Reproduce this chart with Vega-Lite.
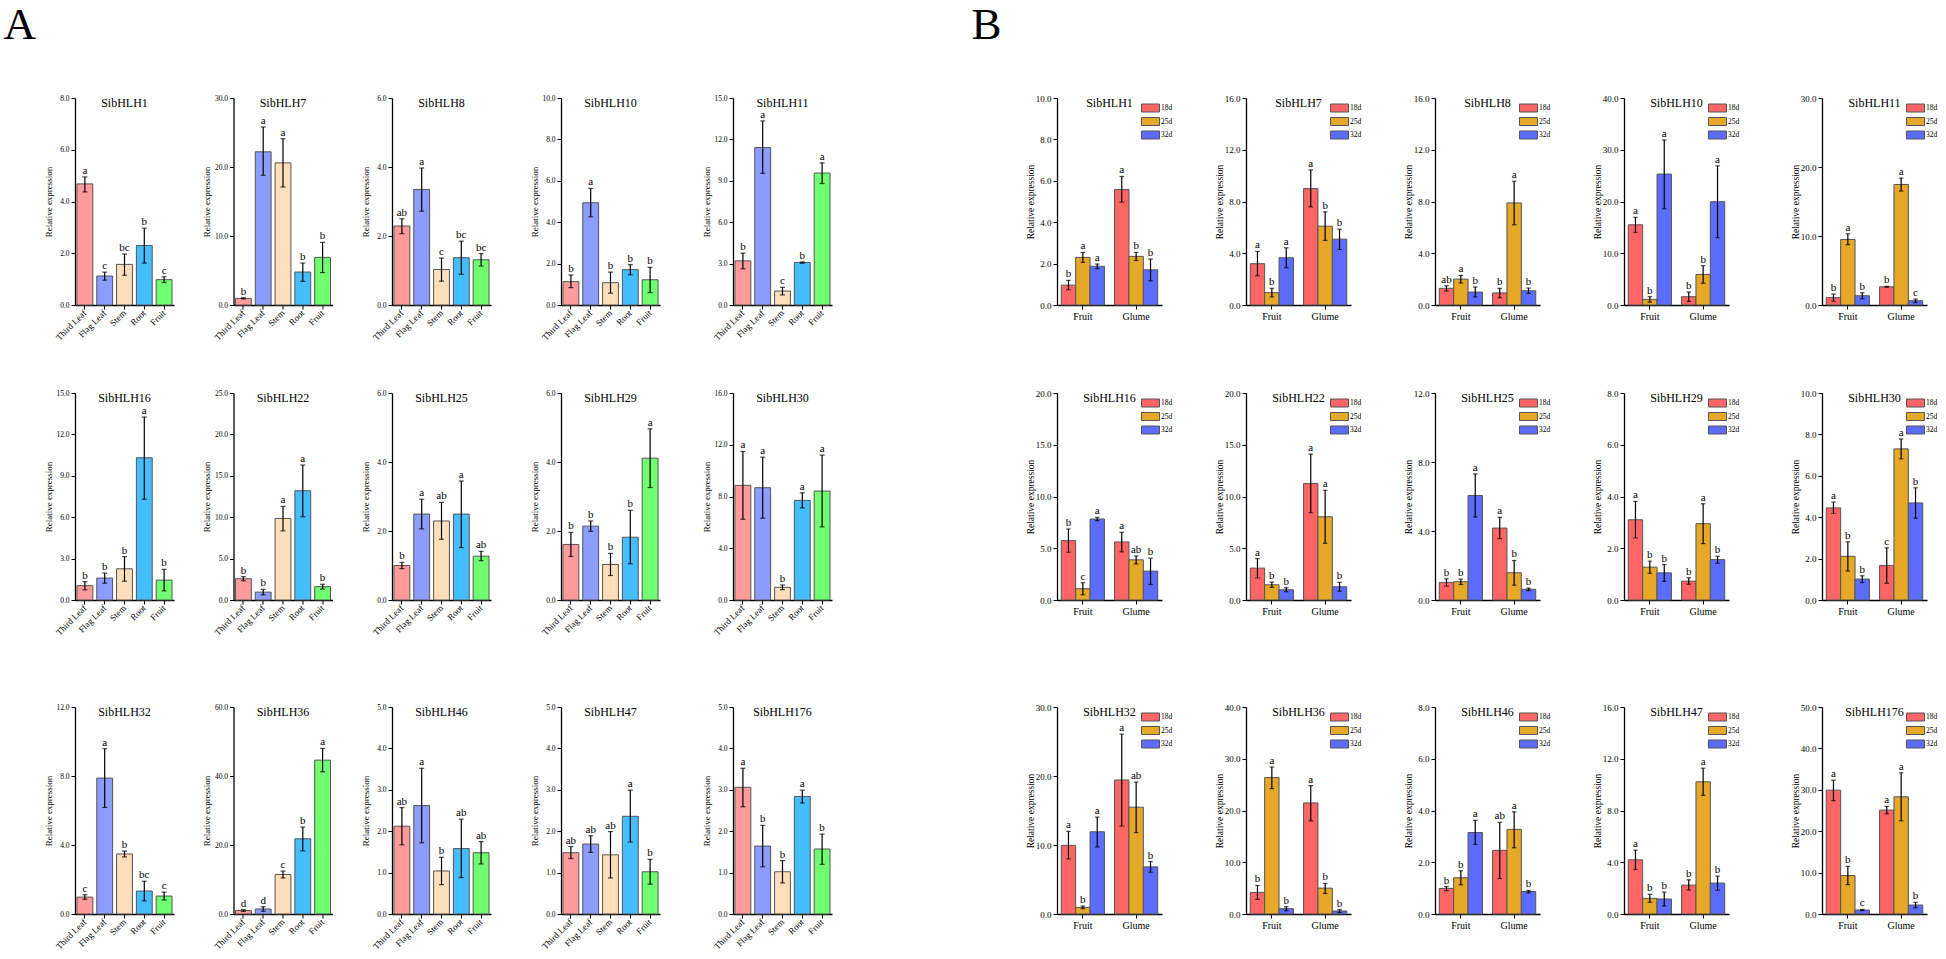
{
"$schema":"https://vega.github.io/schema/vega-lite/v6.json",
"padding":{"left":3,"top":3,"right":0,"bottom":0},
"config":{
 "view":{"stroke":null},
 "font":"Liberation Serif",
 "style":{"group-title":{"font":"Liberation Serif","fontWeight":"normal","fontSize":12,"fill":"#000"}},
 "title":{"font":"Liberation Serif","fontSize":12,"fontWeight":"normal","color":"#000","offset":-15.5,"frame":"group","baseline":"alphabetic"},
 "axis":{"domainColor":"#000","domainWidth":1.3,"tickColor":"#000","tickWidth":1,"tickSize":4,"labelColor":"#000","titleColor":"#000","labelFont":"Liberation Serif","titleFont":"Liberation Serif","titleFontWeight":"normal","grid":false,"labelOverlap":false,"labelPadding":2},
 "axisY":{"labelFontSize":7.5,"titleFontSize":9,"titlePadding":2,"minExtent":20,"maxExtent":20},
 "axisX":{"labelFontSize":9,"minExtent":40},
 "bar":{"stroke":"#555","strokeWidth":1},
 "text":{"font":"Liberation Serif","fontSize":11,"color":"#000"},
 "legend":{"orient":"none","legendX":84,"legendY":5.5,"padding":0,"symbolType":"M-1,-1H3.5V1H-1Z","symbolSize":64,"symbolStrokeColor":"#555","symbolStrokeWidth":0.8,"labelFont":"Liberation Serif","labelFontSize":7.5,"labelColor":"#000","labelOffset":11,"rowPadding":0.5}
},
"hconcat":[
{"title":{"text":"A","fontSize":45,"anchor":"start","frame":"bounds","offset":10,"dx":-40.5,"baseline":"alphabetic"},
 "spacing":44,
 "vconcat":[
 {"spacing":39,"hconcat":[
  {"spacing":28.5,"hconcat":[
   {"width":99,"height":207,"title":"SibHLH1",
    "data":{"values":[{"tissue":"Third Leaf","mean":4.68,"lo":4.37,"hi":4.95,"sig":"a"},{"tissue":"Flag Leaf","mean":1.12,"lo":0.96,"hi":1.27,"sig":"c"},{"tissue":"Stem","mean":1.57,"lo":1.15,"hi":1.97,"sig":"bc"},{"tissue":"Root","mean":2.3,"lo":1.62,"hi":2.97,"sig":"b"},{"tissue":"Fruit","mean":0.98,"lo":0.87,"hi":1.09,"sig":"c"}]},
    "encoding":{"x":{"field":"tissue","type":"nominal","sort":["Third Leaf","Flag Leaf","Stem","Root","Fruit"],"title":null,"scale":{"paddingInner":0.2,"paddingOuter":0.1},"axis":{"labelAngle":-45,"labelAlign":"right","labelBaseline":"middle"}}},
    "layer":[
     {"mark":"bar","encoding":{"y":{"field":"mean","type":"quantitative","title":"Relative expression","scale":{"domain":[0,8],"nice":false},"axis":{"values":[0,1,2,3,4,5,6,7,8],"labelExpr":"datum.value % 2 ? '' : format(datum.value, '.1f')","tickSize":{"condition":{"test":"datum.value % 2","value":2},"value":4}}},"color":{"field":"tissue","type":"nominal","scale":{"domain":["Third Leaf","Flag Leaf","Stem","Root","Fruit"],"range":["#FF9B9B","#8C9CFF","#FFDEB9","#45BEFF","#70FF70"]},"legend":null}}},
     {"mark":{"type":"errorbar","ticks":true,"size":5,"thickness":1.2,"color":"black"},"encoding":{"y":{"field":"lo","type":"quantitative","title":"Relative expression"},"y2":{"field":"hi"}}},
     {"mark":{"type":"text","baseline":"alphabetic","dy":-3},"encoding":{"y":{"field":"hi","type":"quantitative","title":"Relative expression"},"text":{"field":"sig"}}}
    ]},
   {"width":99,"height":207,"title":"SibHLH7",
    "data":{"values":[{"tissue":"Third Leaf","mean":0.96,"lo":0.88,"hi":1.04,"sig":"b"},{"tissue":"Flag Leaf","mean":22.2,"lo":18.8,"hi":25.8,"sig":"a"},{"tissue":"Stem","mean":20.6,"lo":17.1,"hi":24.1,"sig":"a"},{"tissue":"Root","mean":4.78,"lo":3.42,"hi":6.08,"sig":"b"},{"tissue":"Fruit","mean":6.9,"lo":4.7,"hi":9.07,"sig":"b"}]},
    "encoding":{"x":{"field":"tissue","type":"nominal","sort":["Third Leaf","Flag Leaf","Stem","Root","Fruit"],"title":null,"scale":{"paddingInner":0.2,"paddingOuter":0.1},"axis":{"labelAngle":-45,"labelAlign":"right","labelBaseline":"middle"}}},
    "layer":[
     {"mark":"bar","encoding":{"y":{"field":"mean","type":"quantitative","title":"Relative expression","scale":{"domain":[0,30],"nice":false},"axis":{"values":[0,2.5,5,7.5,10,12.5,15,17.5,20,22.5,25,27.5,30],"labelExpr":"datum.value % 5 ? '' : format(datum.value, '.1f')","tickSize":{"condition":{"test":"datum.value % 5","value":2},"value":4}}},"color":{"field":"tissue","type":"nominal","scale":{"domain":["Third Leaf","Flag Leaf","Stem","Root","Fruit"],"range":["#FF9B9B","#8C9CFF","#FFDEB9","#45BEFF","#70FF70"]},"legend":null}}},
     {"mark":{"type":"errorbar","ticks":true,"size":5,"thickness":1.2,"color":"black"},"encoding":{"y":{"field":"lo","type":"quantitative","title":"Relative expression"},"y2":{"field":"hi"}}},
     {"mark":{"type":"text","baseline":"alphabetic","dy":-3},"encoding":{"y":{"field":"hi","type":"quantitative","title":"Relative expression"},"text":{"field":"sig"}}}
    ]},
   {"width":99,"height":207,"title":"SibHLH8",
    "data":{"values":[{"tissue":"Third Leaf","mean":2.29,"lo":2.07,"hi":2.5,"sig":"ab"},{"tissue":"Flag Leaf","mean":3.35,"lo":2.72,"hi":3.97,"sig":"a"},{"tissue":"Stem","mean":1.03,"lo":0.69,"hi":1.36,"sig":"c"},{"tissue":"Root","mean":1.37,"lo":0.89,"hi":1.85,"sig":"bc"},{"tissue":"Fruit","mean":1.31,"lo":1.13,"hi":1.49,"sig":"bc"}]},
    "encoding":{"x":{"field":"tissue","type":"nominal","sort":["Third Leaf","Flag Leaf","Stem","Root","Fruit"],"title":null,"scale":{"paddingInner":0.2,"paddingOuter":0.1},"axis":{"labelAngle":-45,"labelAlign":"right","labelBaseline":"middle"}}},
    "layer":[
     {"mark":"bar","encoding":{"y":{"field":"mean","type":"quantitative","title":"Relative expression","scale":{"domain":[0,6],"nice":false},"axis":{"values":[0,0.5,1,1.5,2,2.5,3,3.5,4,4.5,5,5.5,6],"labelExpr":"datum.value % 1 ? '' : format(datum.value, '.1f')","tickSize":{"condition":{"test":"datum.value % 1","value":2},"value":4}}},"color":{"field":"tissue","type":"nominal","scale":{"domain":["Third Leaf","Flag Leaf","Stem","Root","Fruit"],"range":["#FF9B9B","#8C9CFF","#FFDEB9","#45BEFF","#70FF70"]},"legend":null}}},
     {"mark":{"type":"errorbar","ticks":true,"size":5,"thickness":1.2,"color":"black"},"encoding":{"y":{"field":"lo","type":"quantitative","title":"Relative expression"},"y2":{"field":"hi"}}},
     {"mark":{"type":"text","baseline":"alphabetic","dy":-3},"encoding":{"y":{"field":"hi","type":"quantitative","title":"Relative expression"},"text":{"field":"sig"}}}
    ]}
  ]},
  {"spacing":42,"hconcat":[
   {"width":99,"height":207,"title":"SibHLH10",
    "data":{"values":[{"tissue":"Third Leaf","mean":1.13,"lo":0.84,"hi":1.45,"sig":"b"},{"tissue":"Flag Leaf","mean":4.94,"lo":4.26,"hi":5.63,"sig":"a"},{"tissue":"Stem","mean":1.08,"lo":0.57,"hi":1.59,"sig":"b"},{"tissue":"Root","mean":1.71,"lo":1.46,"hi":1.95,"sig":"b"},{"tissue":"Fruit","mean":1.22,"lo":0.6,"hi":1.82,"sig":"b"}]},
    "encoding":{"x":{"field":"tissue","type":"nominal","sort":["Third Leaf","Flag Leaf","Stem","Root","Fruit"],"title":null,"scale":{"paddingInner":0.2,"paddingOuter":0.1},"axis":{"labelAngle":-45,"labelAlign":"right","labelBaseline":"middle"}}},
    "layer":[
     {"mark":"bar","encoding":{"y":{"field":"mean","type":"quantitative","title":"Relative expression","scale":{"domain":[0,10],"nice":false},"axis":{"values":[0,1,2,3,4,5,6,7,8,9,10],"labelExpr":"datum.value % 2 ? '' : format(datum.value, '.1f')","tickSize":{"condition":{"test":"datum.value % 2","value":2},"value":4}}},"color":{"field":"tissue","type":"nominal","scale":{"domain":["Third Leaf","Flag Leaf","Stem","Root","Fruit"],"range":["#FF9B9B","#8C9CFF","#FFDEB9","#45BEFF","#70FF70"]},"legend":null}}},
     {"mark":{"type":"errorbar","ticks":true,"size":5,"thickness":1.2,"color":"black"},"encoding":{"y":{"field":"lo","type":"quantitative","title":"Relative expression"},"y2":{"field":"hi"}}},
     {"mark":{"type":"text","baseline":"alphabetic","dy":-3},"encoding":{"y":{"field":"hi","type":"quantitative","title":"Relative expression"},"text":{"field":"sig"}}}
    ]},
   {"width":99,"height":207,"title":"SibHLH11",
    "data":{"values":[{"tissue":"Third Leaf","mean":3.2,"lo":2.62,"hi":3.76,"sig":"b"},{"tissue":"Flag Leaf","mean":11.41,"lo":9.54,"hi":13.34,"sig":"a"},{"tissue":"Stem","mean":1.01,"lo":0.73,"hi":1.28,"sig":"c"},{"tissue":"Root","mean":3.08,"lo":3.03,"hi":3.12,"sig":"b"},{"tissue":"Fruit","mean":9.56,"lo":8.8,"hi":10.3,"sig":"a"}]},
    "encoding":{"x":{"field":"tissue","type":"nominal","sort":["Third Leaf","Flag Leaf","Stem","Root","Fruit"],"title":null,"scale":{"paddingInner":0.2,"paddingOuter":0.1},"axis":{"labelAngle":-45,"labelAlign":"right","labelBaseline":"middle"}}},
    "layer":[
     {"mark":"bar","encoding":{"y":{"field":"mean","type":"quantitative","title":"Relative expression","scale":{"domain":[0,15],"nice":false},"axis":{"values":[0,1.5,3,4.5,6,7.5,9,10.5,12,13.5,15],"labelExpr":"datum.value % 3 ? '' : format(datum.value, '.1f')","tickSize":{"condition":{"test":"datum.value % 3","value":2},"value":4}}},"color":{"field":"tissue","type":"nominal","scale":{"domain":["Third Leaf","Flag Leaf","Stem","Root","Fruit"],"range":["#FF9B9B","#8C9CFF","#FFDEB9","#45BEFF","#70FF70"]},"legend":null}}},
     {"mark":{"type":"errorbar","ticks":true,"size":5,"thickness":1.2,"color":"black"},"encoding":{"y":{"field":"lo","type":"quantitative","title":"Relative expression"},"y2":{"field":"hi"}}},
     {"mark":{"type":"text","baseline":"alphabetic","dy":-3},"encoding":{"y":{"field":"hi","type":"quantitative","title":"Relative expression"},"text":{"field":"sig"}}}
    ]}
  ]}
 ]},
 {"spacing":39,"hconcat":[
  {"spacing":28.5,"hconcat":[
   {"width":99,"height":207,"title":"SibHLH16",
    "data":{"values":[{"tissue":"Third Leaf","mean":1.04,"lo":0.74,"hi":1.33,"sig":"b"},{"tissue":"Flag Leaf","mean":1.59,"lo":1.22,"hi":1.95,"sig":"b"},{"tissue":"Stem","mean":2.26,"lo":1.36,"hi":3.14,"sig":"b"},{"tissue":"Root","mean":10.31,"lo":7.3,"hi":13.26,"sig":"a"},{"tissue":"Fruit","mean":1.44,"lo":0.66,"hi":2.22,"sig":"b"}]},
    "encoding":{"x":{"field":"tissue","type":"nominal","sort":["Third Leaf","Flag Leaf","Stem","Root","Fruit"],"title":null,"scale":{"paddingInner":0.2,"paddingOuter":0.1},"axis":{"labelAngle":-45,"labelAlign":"right","labelBaseline":"middle","minExtent":59}}},
    "layer":[
     {"mark":"bar","encoding":{"y":{"field":"mean","type":"quantitative","title":"Relative expression","scale":{"domain":[0,15],"nice":false},"axis":{"values":[0,1.5,3,4.5,6,7.5,9,10.5,12,13.5,15],"labelExpr":"datum.value % 3 ? '' : format(datum.value, '.1f')","tickSize":{"condition":{"test":"datum.value % 3","value":2},"value":4}}},"color":{"field":"tissue","type":"nominal","scale":{"domain":["Third Leaf","Flag Leaf","Stem","Root","Fruit"],"range":["#FF9B9B","#8C9CFF","#FFDEB9","#45BEFF","#70FF70"]},"legend":null}}},
     {"mark":{"type":"errorbar","ticks":true,"size":5,"thickness":1.2,"color":"black"},"encoding":{"y":{"field":"lo","type":"quantitative","title":"Relative expression"},"y2":{"field":"hi"}}},
     {"mark":{"type":"text","baseline":"alphabetic","dy":-3},"encoding":{"y":{"field":"hi","type":"quantitative","title":"Relative expression"},"text":{"field":"sig"}}}
    ]},
   {"width":99,"height":207,"title":"SibHLH22",
    "data":{"values":[{"tissue":"Third Leaf","mean":2.57,"lo":2.32,"hi":2.82,"sig":"b"},{"tissue":"Flag Leaf","mean":0.95,"lo":0.62,"hi":1.28,"sig":"b"},{"tissue":"Stem","mean":9.85,"lo":8.35,"hi":11.3,"sig":"a"},{"tissue":"Root","mean":13.2,"lo":10.05,"hi":16.3,"sig":"a"},{"tissue":"Fruit","mean":1.61,"lo":1.32,"hi":1.9,"sig":"b"}]},
    "encoding":{"x":{"field":"tissue","type":"nominal","sort":["Third Leaf","Flag Leaf","Stem","Root","Fruit"],"title":null,"scale":{"paddingInner":0.2,"paddingOuter":0.1},"axis":{"labelAngle":-45,"labelAlign":"right","labelBaseline":"middle","minExtent":59}}},
    "layer":[
     {"mark":"bar","encoding":{"y":{"field":"mean","type":"quantitative","title":"Relative expression","scale":{"domain":[0,25],"nice":false},"axis":{"values":[0,2.5,5,7.5,10,12.5,15,17.5,20,22.5,25],"labelExpr":"datum.value % 5 ? '' : format(datum.value, '.1f')","tickSize":{"condition":{"test":"datum.value % 5","value":2},"value":4}}},"color":{"field":"tissue","type":"nominal","scale":{"domain":["Third Leaf","Flag Leaf","Stem","Root","Fruit"],"range":["#FF9B9B","#8C9CFF","#FFDEB9","#45BEFF","#70FF70"]},"legend":null}}},
     {"mark":{"type":"errorbar","ticks":true,"size":5,"thickness":1.2,"color":"black"},"encoding":{"y":{"field":"lo","type":"quantitative","title":"Relative expression"},"y2":{"field":"hi"}}},
     {"mark":{"type":"text","baseline":"alphabetic","dy":-3},"encoding":{"y":{"field":"hi","type":"quantitative","title":"Relative expression"},"text":{"field":"sig"}}}
    ]},
   {"width":99,"height":207,"title":"SibHLH25",
    "data":{"values":[{"tissue":"Third Leaf","mean":1.0,"lo":0.91,"hi":1.09,"sig":"b"},{"tissue":"Flag Leaf","mean":2.49,"lo":2.06,"hi":2.92,"sig":"a"},{"tissue":"Stem","mean":2.29,"lo":1.76,"hi":2.83,"sig":"ab"},{"tissue":"Root","mean":2.49,"lo":1.52,"hi":3.45,"sig":"a"},{"tissue":"Fruit","mean":1.27,"lo":1.14,"hi":1.41,"sig":"ab"}]},
    "encoding":{"x":{"field":"tissue","type":"nominal","sort":["Third Leaf","Flag Leaf","Stem","Root","Fruit"],"title":null,"scale":{"paddingInner":0.2,"paddingOuter":0.1},"axis":{"labelAngle":-45,"labelAlign":"right","labelBaseline":"middle","minExtent":59}}},
    "layer":[
     {"mark":"bar","encoding":{"y":{"field":"mean","type":"quantitative","title":"Relative expression","scale":{"domain":[0,6],"nice":false},"axis":{"values":[0,0.5,1,1.5,2,2.5,3,3.5,4,4.5,5,5.5,6],"labelExpr":"datum.value % 1 ? '' : format(datum.value, '.1f')","tickSize":{"condition":{"test":"datum.value % 1","value":2},"value":4}}},"color":{"field":"tissue","type":"nominal","scale":{"domain":["Third Leaf","Flag Leaf","Stem","Root","Fruit"],"range":["#FF9B9B","#8C9CFF","#FFDEB9","#45BEFF","#70FF70"]},"legend":null}}},
     {"mark":{"type":"errorbar","ticks":true,"size":5,"thickness":1.2,"color":"black"},"encoding":{"y":{"field":"lo","type":"quantitative","title":"Relative expression"},"y2":{"field":"hi"}}},
     {"mark":{"type":"text","baseline":"alphabetic","dy":-3},"encoding":{"y":{"field":"hi","type":"quantitative","title":"Relative expression"},"text":{"field":"sig"}}}
    ]}
  ]},
  {"spacing":42,"hconcat":[
   {"width":99,"height":207,"title":"SibHLH29",
    "data":{"values":[{"tissue":"Third Leaf","mean":1.61,"lo":1.26,"hi":1.96,"sig":"b"},{"tissue":"Flag Leaf","mean":2.14,"lo":1.99,"hi":2.29,"sig":"b"},{"tissue":"Stem","mean":1.03,"lo":0.71,"hi":1.35,"sig":"b"},{"tissue":"Root","mean":1.82,"lo":1.05,"hi":2.6,"sig":"b"},{"tissue":"Fruit","mean":4.11,"lo":3.26,"hi":4.96,"sig":"a"}]},
    "encoding":{"x":{"field":"tissue","type":"nominal","sort":["Third Leaf","Flag Leaf","Stem","Root","Fruit"],"title":null,"scale":{"paddingInner":0.2,"paddingOuter":0.1},"axis":{"labelAngle":-45,"labelAlign":"right","labelBaseline":"middle","minExtent":59}}},
    "layer":[
     {"mark":"bar","encoding":{"y":{"field":"mean","type":"quantitative","title":"Relative expression","scale":{"domain":[0,6],"nice":false},"axis":{"values":[0,0.5,1,1.5,2,2.5,3,3.5,4,4.5,5,5.5,6],"labelExpr":"datum.value % 1 ? '' : format(datum.value, '.1f')","tickSize":{"condition":{"test":"datum.value % 1","value":2},"value":4}}},"color":{"field":"tissue","type":"nominal","scale":{"domain":["Third Leaf","Flag Leaf","Stem","Root","Fruit"],"range":["#FF9B9B","#8C9CFF","#FFDEB9","#45BEFF","#70FF70"]},"legend":null}}},
     {"mark":{"type":"errorbar","ticks":true,"size":5,"thickness":1.2,"color":"black"},"encoding":{"y":{"field":"lo","type":"quantitative","title":"Relative expression"},"y2":{"field":"hi"}}},
     {"mark":{"type":"text","baseline":"alphabetic","dy":-3},"encoding":{"y":{"field":"hi","type":"quantitative","title":"Relative expression"},"text":{"field":"sig"}}}
    ]},
   {"width":99,"height":207,"title":"SibHLH30",
    "data":{"values":[{"tissue":"Third Leaf","mean":8.86,"lo":6.24,"hi":11.48,"sig":"a"},{"tissue":"Flag Leaf","mean":8.68,"lo":6.32,"hi":11.04,"sig":"a"},{"tissue":"Stem","mean":0.98,"lo":0.8,"hi":1.16,"sig":"b"},{"tissue":"Root","mean":7.7,"lo":7.12,"hi":8.29,"sig":"a"},{"tissue":"Fruit","mean":8.42,"lo":5.65,"hi":11.2,"sig":"a"}]},
    "encoding":{"x":{"field":"tissue","type":"nominal","sort":["Third Leaf","Flag Leaf","Stem","Root","Fruit"],"title":null,"scale":{"paddingInner":0.2,"paddingOuter":0.1},"axis":{"labelAngle":-45,"labelAlign":"right","labelBaseline":"middle","minExtent":59}}},
    "layer":[
     {"mark":"bar","encoding":{"y":{"field":"mean","type":"quantitative","title":"Relative expression","scale":{"domain":[0,16],"nice":false},"axis":{"values":[0,2,4,6,8,10,12,14,16],"labelExpr":"datum.value % 4 ? '' : format(datum.value, '.1f')","tickSize":{"condition":{"test":"datum.value % 4","value":2},"value":4}}},"color":{"field":"tissue","type":"nominal","scale":{"domain":["Third Leaf","Flag Leaf","Stem","Root","Fruit"],"range":["#FF9B9B","#8C9CFF","#FFDEB9","#45BEFF","#70FF70"]},"legend":null}}},
     {"mark":{"type":"errorbar","ticks":true,"size":5,"thickness":1.2,"color":"black"},"encoding":{"y":{"field":"lo","type":"quantitative","title":"Relative expression"},"y2":{"field":"hi"}}},
     {"mark":{"type":"text","baseline":"alphabetic","dy":-3},"encoding":{"y":{"field":"hi","type":"quantitative","title":"Relative expression"},"text":{"field":"sig"}}}
    ]}
  ]}
 ]},
 {"spacing":39,"hconcat":[
  {"spacing":28.5,"hconcat":[
   {"width":99,"height":207,"title":"SibHLH32",
    "data":{"values":[{"tissue":"Third Leaf","mean":0.98,"lo":0.85,"hi":1.12,"sig":"c"},{"tissue":"Flag Leaf","mean":7.88,"lo":6.18,"hi":9.58,"sig":"a"},{"tissue":"Stem","mean":3.48,"lo":3.31,"hi":3.65,"sig":"b"},{"tissue":"Root","mean":1.33,"lo":0.76,"hi":1.9,"sig":"bc"},{"tissue":"Fruit","mean":1.04,"lo":0.81,"hi":1.27,"sig":"c"}]},
    "encoding":{"x":{"field":"tissue","type":"nominal","sort":["Third Leaf","Flag Leaf","Stem","Root","Fruit"],"title":null,"scale":{"paddingInner":0.2,"paddingOuter":0.1},"axis":{"labelAngle":-45,"labelAlign":"right","labelBaseline":"middle"}}},
    "layer":[
     {"mark":"bar","encoding":{"y":{"field":"mean","type":"quantitative","title":"Relative expression","scale":{"domain":[0,12],"nice":false},"axis":{"values":[0,1,2,3,4,5,6,7,8,9,10,11,12],"labelExpr":"datum.value % 2 ? '' : format(datum.value, '.1f')","tickSize":{"condition":{"test":"datum.value % 2","value":2},"value":4}}},"color":{"field":"tissue","type":"nominal","scale":{"domain":["Third Leaf","Flag Leaf","Stem","Root","Fruit"],"range":["#FF9B9B","#8C9CFF","#FFDEB9","#45BEFF","#70FF70"]},"legend":null}}},
     {"mark":{"type":"errorbar","ticks":true,"size":5,"thickness":1.2,"color":"black"},"encoding":{"y":{"field":"lo","type":"quantitative","title":"Relative expression"},"y2":{"field":"hi"}}},
     {"mark":{"type":"text","baseline":"alphabetic","dy":-3},"encoding":{"y":{"field":"hi","type":"quantitative","title":"Relative expression"},"text":{"field":"sig"}}}
    ]},
   {"width":99,"height":207,"title":"SibHLH36",
    "data":{"values":[{"tissue":"Third Leaf","mean":1.0,"lo":0.75,"hi":1.25,"sig":"d"},{"tissue":"Flag Leaf","mean":1.44,"lo":0.8,"hi":2.1,"sig":"d"},{"tissue":"Stem","mean":11.44,"lo":10.45,"hi":12.45,"sig":"c"},{"tissue":"Root","mean":21.8,"lo":18.3,"hi":25.2,"sig":"b"},{"tissue":"Fruit","mean":44.6,"lo":41.2,"hi":48.0,"sig":"a"}]},
    "encoding":{"x":{"field":"tissue","type":"nominal","sort":["Third Leaf","Flag Leaf","Stem","Root","Fruit"],"title":null,"scale":{"paddingInner":0.2,"paddingOuter":0.1},"axis":{"labelAngle":-45,"labelAlign":"right","labelBaseline":"middle"}}},
    "layer":[
     {"mark":"bar","encoding":{"y":{"field":"mean","type":"quantitative","title":"Relative expression","scale":{"domain":[0,60],"nice":false},"axis":{"values":[0,5,10,15,20,25,30,35,40,45,50,55,60],"labelExpr":"datum.value % 10 ? '' : format(datum.value, '.1f')","tickSize":{"condition":{"test":"datum.value % 10","value":2},"value":4}}},"color":{"field":"tissue","type":"nominal","scale":{"domain":["Third Leaf","Flag Leaf","Stem","Root","Fruit"],"range":["#FF9B9B","#8C9CFF","#FFDEB9","#45BEFF","#70FF70"]},"legend":null}}},
     {"mark":{"type":"errorbar","ticks":true,"size":5,"thickness":1.2,"color":"black"},"encoding":{"y":{"field":"lo","type":"quantitative","title":"Relative expression"},"y2":{"field":"hi"}}},
     {"mark":{"type":"text","baseline":"alphabetic","dy":-3},"encoding":{"y":{"field":"hi","type":"quantitative","title":"Relative expression"},"text":{"field":"sig"}}}
    ]},
   {"width":99,"height":207,"title":"SibHLH46",
    "data":{"values":[{"tissue":"Third Leaf","mean":2.12,"lo":1.67,"hi":2.57,"sig":"ab"},{"tissue":"Flag Leaf","mean":2.62,"lo":1.72,"hi":3.52,"sig":"a"},{"tissue":"Stem","mean":1.04,"lo":0.71,"hi":1.37,"sig":"b"},{"tissue":"Root","mean":1.58,"lo":0.88,"hi":2.29,"sig":"ab"},{"tissue":"Fruit","mean":1.48,"lo":1.21,"hi":1.75,"sig":"ab"}]},
    "encoding":{"x":{"field":"tissue","type":"nominal","sort":["Third Leaf","Flag Leaf","Stem","Root","Fruit"],"title":null,"scale":{"paddingInner":0.2,"paddingOuter":0.1},"axis":{"labelAngle":-45,"labelAlign":"right","labelBaseline":"middle"}}},
    "layer":[
     {"mark":"bar","encoding":{"y":{"field":"mean","type":"quantitative","title":"Relative expression","scale":{"domain":[0,5],"nice":false},"axis":{"values":[0,0.5,1,1.5,2,2.5,3,3.5,4,4.5,5],"labelExpr":"datum.value % 1 ? '' : format(datum.value, '.1f')","tickSize":{"condition":{"test":"datum.value % 1","value":2},"value":4}}},"color":{"field":"tissue","type":"nominal","scale":{"domain":["Third Leaf","Flag Leaf","Stem","Root","Fruit"],"range":["#FF9B9B","#8C9CFF","#FFDEB9","#45BEFF","#70FF70"]},"legend":null}}},
     {"mark":{"type":"errorbar","ticks":true,"size":5,"thickness":1.2,"color":"black"},"encoding":{"y":{"field":"lo","type":"quantitative","title":"Relative expression"},"y2":{"field":"hi"}}},
     {"mark":{"type":"text","baseline":"alphabetic","dy":-3},"encoding":{"y":{"field":"hi","type":"quantitative","title":"Relative expression"},"text":{"field":"sig"}}}
    ]}
  ]},
  {"spacing":42,"hconcat":[
   {"width":99,"height":207,"title":"SibHLH47",
    "data":{"values":[{"tissue":"Third Leaf","mean":1.48,"lo":1.34,"hi":1.63,"sig":"ab"},{"tissue":"Flag Leaf","mean":1.69,"lo":1.49,"hi":1.89,"sig":"ab"},{"tissue":"Stem","mean":1.43,"lo":0.87,"hi":1.99,"sig":"ab"},{"tissue":"Root","mean":2.36,"lo":1.74,"hi":2.99,"sig":"a"},{"tissue":"Fruit","mean":1.02,"lo":0.72,"hi":1.32,"sig":"b"}]},
    "encoding":{"x":{"field":"tissue","type":"nominal","sort":["Third Leaf","Flag Leaf","Stem","Root","Fruit"],"title":null,"scale":{"paddingInner":0.2,"paddingOuter":0.1},"axis":{"labelAngle":-45,"labelAlign":"right","labelBaseline":"middle"}}},
    "layer":[
     {"mark":"bar","encoding":{"y":{"field":"mean","type":"quantitative","title":"Relative expression","scale":{"domain":[0,5],"nice":false},"axis":{"values":[0,0.5,1,1.5,2,2.5,3,3.5,4,4.5,5],"labelExpr":"datum.value % 1 ? '' : format(datum.value, '.1f')","tickSize":{"condition":{"test":"datum.value % 1","value":2},"value":4}}},"color":{"field":"tissue","type":"nominal","scale":{"domain":["Third Leaf","Flag Leaf","Stem","Root","Fruit"],"range":["#FF9B9B","#8C9CFF","#FFDEB9","#45BEFF","#70FF70"]},"legend":null}}},
     {"mark":{"type":"errorbar","ticks":true,"size":5,"thickness":1.2,"color":"black"},"encoding":{"y":{"field":"lo","type":"quantitative","title":"Relative expression"},"y2":{"field":"hi"}}},
     {"mark":{"type":"text","baseline":"alphabetic","dy":-3},"encoding":{"y":{"field":"hi","type":"quantitative","title":"Relative expression"},"text":{"field":"sig"}}}
    ]},
   {"width":99,"height":207,"title":"SibHLH176",
    "data":{"values":[{"tissue":"Third Leaf","mean":3.06,"lo":2.59,"hi":3.52,"sig":"a"},{"tissue":"Flag Leaf","mean":1.64,"lo":1.14,"hi":2.14,"sig":"b"},{"tissue":"Stem","mean":1.02,"lo":0.75,"hi":1.29,"sig":"b"},{"tissue":"Root","mean":2.84,"lo":2.68,"hi":2.99,"sig":"a"},{"tissue":"Fruit","mean":1.57,"lo":1.2,"hi":1.93,"sig":"b"}]},
    "encoding":{"x":{"field":"tissue","type":"nominal","sort":["Third Leaf","Flag Leaf","Stem","Root","Fruit"],"title":null,"scale":{"paddingInner":0.2,"paddingOuter":0.1},"axis":{"labelAngle":-45,"labelAlign":"right","labelBaseline":"middle"}}},
    "layer":[
     {"mark":"bar","encoding":{"y":{"field":"mean","type":"quantitative","title":"Relative expression","scale":{"domain":[0,5],"nice":false},"axis":{"values":[0,0.5,1,1.5,2,2.5,3,3.5,4,4.5,5],"labelExpr":"datum.value % 1 ? '' : format(datum.value, '.1f')","tickSize":{"condition":{"test":"datum.value % 1","value":2},"value":4}}},"color":{"field":"tissue","type":"nominal","scale":{"domain":["Third Leaf","Flag Leaf","Stem","Root","Fruit"],"range":["#FF9B9B","#8C9CFF","#FFDEB9","#45BEFF","#70FF70"]},"legend":null}}},
     {"mark":{"type":"errorbar","ticks":true,"size":5,"thickness":1.2,"color":"black"},"encoding":{"y":{"field":"lo","type":"quantitative","title":"Relative expression"},"y2":{"field":"hi"}}},
     {"mark":{"type":"text","baseline":"alphabetic","dy":-3},"encoding":{"y":{"field":"hi","type":"quantitative","title":"Relative expression"},"text":{"field":"sig"}}}
    ]}
  ]}
 ]}
 ]},
{"title":{"text":"B","fontSize":45,"anchor":"start","frame":"bounds","offset":10,"dx":-53.5,"baseline":"alphabetic"},
 "spacing":44,
 "resolve":{"legend":{"color":"independent"}},
 "vconcat":[
 {"spacing":50,"resolve":{"legend":{"color":"independent"}},"hconcat":[
  {"spacing":41,"resolve":{"legend":{"color":"independent"}},"hconcat":[
   {"width":105,"height":207,"title":"SibHLH1",
    "data":{"values":[{"tissue":"Fruit","stage":"18d","mean":0.96,"lo":0.74,"hi":1.19,"sig":"b"},{"tissue":"Fruit","stage":"25d","mean":2.3,"lo":2.06,"hi":2.54,"sig":"a"},{"tissue":"Fruit","stage":"32d","mean":1.87,"lo":1.76,"hi":1.98,"sig":"a"},{"tissue":"Glume","stage":"18d","mean":5.58,"lo":4.97,"hi":6.21,"sig":"a"},{"tissue":"Glume","stage":"25d","mean":2.35,"lo":2.15,"hi":2.54,"sig":"b"},{"tissue":"Glume","stage":"32d","mean":1.7,"lo":1.17,"hi":2.22,"sig":"b"}]},
    "encoding":{"x":{"field":"tissue","type":"nominal","title":null,"scale":{"paddingInner":0.19,"paddingOuter":0.08},"axis":{"labelAngle":0,"labelFontSize":10}},"xOffset":{"field":"stage","type":"nominal","scale":{"paddingInner":0,"paddingOuter":0}}},
    "layer":[
     {"mark":"bar","encoding":{"y":{"field":"mean","type":"quantitative","title":"Relative expression","scale":{"domain":[0,10],"nice":false},"axis":{"labelFontSize":9,"titleFontSize":9.5,"values":[0,1,2,3,4,5,6,7,8,9,10],"labelExpr":"datum.value % 2 ? '' : format(datum.value, '.1f')","tickSize":{"condition":{"test":"datum.value % 2","value":2},"value":4}}},"color":{"field":"stage","type":"nominal","title":null,"scale":{"domain":["18d","25d","32d"],"range":["#FF6565","#E6A829","#5B6CFF"]}}}},
     {"mark":{"type":"rule","color":"black","strokeWidth":1.2},"encoding":{"y":{"field":"lo","type":"quantitative","title":"Relative expression"},"y2":{"field":"hi"}}},
     {"mark":{"type":"tick","color":"black","size":4.5,"thickness":1.2},"encoding":{"y":{"field":"lo","type":"quantitative","title":"Relative expression"}}},
     {"mark":{"type":"tick","color":"black","size":4.5,"thickness":1.2},"encoding":{"y":{"field":"hi","type":"quantitative","title":"Relative expression"}}},
     {"mark":{"type":"text","baseline":"alphabetic","dy":-3},"encoding":{"y":{"field":"hi","type":"quantitative","title":"Relative expression"},"text":{"field":"sig"}}}
    ]},
   {"width":105,"height":207,"title":"SibHLH7",
    "data":{"values":[{"tissue":"Fruit","stage":"18d","mean":3.19,"lo":2.26,"hi":4.14,"sig":"a"},{"tissue":"Fruit","stage":"25d","mean":0.95,"lo":0.62,"hi":1.29,"sig":"b"},{"tissue":"Fruit","stage":"32d","mean":3.65,"lo":2.88,"hi":4.42,"sig":"a"},{"tissue":"Glume","stage":"18d","mean":9.0,"lo":7.58,"hi":10.44,"sig":"a"},{"tissue":"Glume","stage":"25d","mean":6.09,"lo":4.99,"hi":7.2,"sig":"b"},{"tissue":"Glume","stage":"32d","mean":5.09,"lo":4.29,"hi":5.86,"sig":"b"}]},
    "encoding":{"x":{"field":"tissue","type":"nominal","title":null,"scale":{"paddingInner":0.19,"paddingOuter":0.08},"axis":{"labelAngle":0,"labelFontSize":10}},"xOffset":{"field":"stage","type":"nominal","scale":{"paddingInner":0,"paddingOuter":0}}},
    "layer":[
     {"mark":"bar","encoding":{"y":{"field":"mean","type":"quantitative","title":"Relative expression","scale":{"domain":[0,16],"nice":false},"axis":{"labelFontSize":9,"titleFontSize":9.5,"values":[0,2,4,6,8,10,12,14,16],"labelExpr":"datum.value % 4 ? '' : format(datum.value, '.1f')","tickSize":{"condition":{"test":"datum.value % 4","value":2},"value":4}}},"color":{"field":"stage","type":"nominal","title":null,"scale":{"domain":["18d","25d","32d"],"range":["#FF6565","#E6A829","#5B6CFF"]}}}},
     {"mark":{"type":"rule","color":"black","strokeWidth":1.2},"encoding":{"y":{"field":"lo","type":"quantitative","title":"Relative expression"},"y2":{"field":"hi"}}},
     {"mark":{"type":"tick","color":"black","size":4.5,"thickness":1.2},"encoding":{"y":{"field":"lo","type":"quantitative","title":"Relative expression"}}},
     {"mark":{"type":"tick","color":"black","size":4.5,"thickness":1.2},"encoding":{"y":{"field":"hi","type":"quantitative","title":"Relative expression"}}},
     {"mark":{"type":"text","baseline":"alphabetic","dy":-3},"encoding":{"y":{"field":"hi","type":"quantitative","title":"Relative expression"},"text":{"field":"sig"}}}
    ]},
   {"width":105,"height":207,"title":"SibHLH8",
    "data":{"values":[{"tissue":"Fruit","stage":"18d","mean":1.29,"lo":1.08,"hi":1.49,"sig":"ab"},{"tissue":"Fruit","stage":"25d","mean":2.0,"lo":1.7,"hi":2.29,"sig":"a"},{"tissue":"Fruit","stage":"32d","mean":1.0,"lo":0.62,"hi":1.39,"sig":"b"},{"tissue":"Glume","stage":"18d","mean":0.93,"lo":0.56,"hi":1.29,"sig":"b"},{"tissue":"Glume","stage":"25d","mean":7.89,"lo":6.2,"hi":9.56,"sig":"a"},{"tissue":"Glume","stage":"32d","mean":1.1,"lo":0.9,"hi":1.31,"sig":"b"}]},
    "encoding":{"x":{"field":"tissue","type":"nominal","title":null,"scale":{"paddingInner":0.19,"paddingOuter":0.08},"axis":{"labelAngle":0,"labelFontSize":10}},"xOffset":{"field":"stage","type":"nominal","scale":{"paddingInner":0,"paddingOuter":0}}},
    "layer":[
     {"mark":"bar","encoding":{"y":{"field":"mean","type":"quantitative","title":"Relative expression","scale":{"domain":[0,16],"nice":false},"axis":{"labelFontSize":9,"titleFontSize":9.5,"values":[0,2,4,6,8,10,12,14,16],"labelExpr":"datum.value % 4 ? '' : format(datum.value, '.1f')","tickSize":{"condition":{"test":"datum.value % 4","value":2},"value":4}}},"color":{"field":"stage","type":"nominal","title":null,"scale":{"domain":["18d","25d","32d"],"range":["#FF6565","#E6A829","#5B6CFF"]}}}},
     {"mark":{"type":"rule","color":"black","strokeWidth":1.2},"encoding":{"y":{"field":"lo","type":"quantitative","title":"Relative expression"},"y2":{"field":"hi"}}},
     {"mark":{"type":"tick","color":"black","size":4.5,"thickness":1.2},"encoding":{"y":{"field":"lo","type":"quantitative","title":"Relative expression"}}},
     {"mark":{"type":"tick","color":"black","size":4.5,"thickness":1.2},"encoding":{"y":{"field":"hi","type":"quantitative","title":"Relative expression"}}},
     {"mark":{"type":"text","baseline":"alphabetic","dy":-3},"encoding":{"y":{"field":"hi","type":"quantitative","title":"Relative expression"},"text":{"field":"sig"}}}
    ]},
   {"width":105,"height":207,"title":"SibHLH10",
    "data":{"values":[{"tissue":"Fruit","stage":"18d","mean":15.5,"lo":14.06,"hi":16.94,"sig":"a"},{"tissue":"Fruit","stage":"25d","mean":1.09,"lo":0.55,"hi":1.6,"sig":"b"},{"tissue":"Fruit","stage":"32d","mean":25.3,"lo":18.6,"hi":31.9,"sig":"a"},{"tissue":"Glume","stage":"18d","mean":1.6,"lo":0.7,"hi":2.5,"sig":"b"},{"tissue":"Glume","stage":"25d","mean":5.9,"lo":4.2,"hi":7.6,"sig":"b"},{"tissue":"Glume","stage":"32d","mean":19.96,"lo":13.0,"hi":26.9,"sig":"a"}]},
    "encoding":{"x":{"field":"tissue","type":"nominal","title":null,"scale":{"paddingInner":0.19,"paddingOuter":0.08},"axis":{"labelAngle":0,"labelFontSize":10}},"xOffset":{"field":"stage","type":"nominal","scale":{"paddingInner":0,"paddingOuter":0}}},
    "layer":[
     {"mark":"bar","encoding":{"y":{"field":"mean","type":"quantitative","title":"Relative expression","scale":{"domain":[0,40],"nice":false},"axis":{"labelFontSize":9,"titleFontSize":9.5,"values":[0,5,10,15,20,25,30,35,40],"labelExpr":"datum.value % 10 ? '' : format(datum.value, '.1f')","tickSize":{"condition":{"test":"datum.value % 10","value":2},"value":4}}},"color":{"field":"stage","type":"nominal","title":null,"scale":{"domain":["18d","25d","32d"],"range":["#FF6565","#E6A829","#5B6CFF"]}}}},
     {"mark":{"type":"rule","color":"black","strokeWidth":1.2},"encoding":{"y":{"field":"lo","type":"quantitative","title":"Relative expression"},"y2":{"field":"hi"}}},
     {"mark":{"type":"tick","color":"black","size":4.5,"thickness":1.2},"encoding":{"y":{"field":"lo","type":"quantitative","title":"Relative expression"}}},
     {"mark":{"type":"tick","color":"black","size":4.5,"thickness":1.2},"encoding":{"y":{"field":"hi","type":"quantitative","title":"Relative expression"}}},
     {"mark":{"type":"text","baseline":"alphabetic","dy":-3},"encoding":{"y":{"field":"hi","type":"quantitative","title":"Relative expression"},"text":{"field":"sig"}}}
    ]}
  ]},
   {"width":105,"height":207,"title":"SibHLH11",
    "data":{"values":[{"tissue":"Fruit","stage":"18d","mean":1.06,"lo":0.55,"hi":1.58,"sig":"b"},{"tissue":"Fruit","stage":"25d","mean":9.5,"lo":8.74,"hi":10.32,"sig":"a"},{"tissue":"Fruit","stage":"32d","mean":1.34,"lo":0.91,"hi":1.78,"sig":"b"},{"tissue":"Glume","stage":"18d","mean":2.64,"lo":2.58,"hi":2.7,"sig":"b"},{"tissue":"Glume","stage":"25d","mean":17.47,"lo":16.51,"hi":18.39,"sig":"a"},{"tissue":"Glume","stage":"32d","mean":0.62,"lo":0.36,"hi":0.86,"sig":"c"}]},
    "encoding":{"x":{"field":"tissue","type":"nominal","title":null,"scale":{"paddingInner":0.19,"paddingOuter":0.08},"axis":{"labelAngle":0,"labelFontSize":10}},"xOffset":{"field":"stage","type":"nominal","scale":{"paddingInner":0,"paddingOuter":0}}},
    "layer":[
     {"mark":"bar","encoding":{"y":{"field":"mean","type":"quantitative","title":"Relative expression","scale":{"domain":[0,30],"nice":false},"axis":{"labelFontSize":9,"titleFontSize":9.5,"values":[0,2.5,5,7.5,10,12.5,15,17.5,20,22.5,25,27.5,30],"labelExpr":"datum.value % 5 ? '' : format(datum.value, '.1f')","tickSize":{"condition":{"test":"datum.value % 5","value":2},"value":4}}},"color":{"field":"stage","type":"nominal","title":null,"scale":{"domain":["18d","25d","32d"],"range":["#FF6565","#E6A829","#5B6CFF"]}}}},
     {"mark":{"type":"rule","color":"black","strokeWidth":1.2},"encoding":{"y":{"field":"lo","type":"quantitative","title":"Relative expression"},"y2":{"field":"hi"}}},
     {"mark":{"type":"tick","color":"black","size":4.5,"thickness":1.2},"encoding":{"y":{"field":"lo","type":"quantitative","title":"Relative expression"}}},
     {"mark":{"type":"tick","color":"black","size":4.5,"thickness":1.2},"encoding":{"y":{"field":"hi","type":"quantitative","title":"Relative expression"}}},
     {"mark":{"type":"text","baseline":"alphabetic","dy":-3},"encoding":{"y":{"field":"hi","type":"quantitative","title":"Relative expression"},"text":{"field":"sig"}}}
    ]}
 ]},
 {"spacing":50,"resolve":{"legend":{"color":"independent"}},"hconcat":[
  {"spacing":41,"resolve":{"legend":{"color":"independent"}},"hconcat":[
   {"width":105,"height":207,"title":"SibHLH16",
    "data":{"values":[{"tissue":"Fruit","stage":"18d","mean":5.74,"lo":4.62,"hi":6.86,"sig":"b"},{"tissue":"Fruit","stage":"25d","mean":1.09,"lo":0.51,"hi":1.67,"sig":"c"},{"tissue":"Fruit","stage":"32d","mean":7.82,"lo":7.66,"hi":7.98,"sig":"a"},{"tissue":"Glume","stage":"18d","mean":5.61,"lo":4.65,"hi":6.54,"sig":"a"},{"tissue":"Glume","stage":"25d","mean":3.88,"lo":3.49,"hi":4.26,"sig":"ab"},{"tissue":"Glume","stage":"32d","mean":2.79,"lo":1.51,"hi":4.04,"sig":"b"}]},
    "encoding":{"x":{"field":"tissue","type":"nominal","title":null,"scale":{"paddingInner":0.19,"paddingOuter":0.08},"axis":{"labelAngle":0,"labelFontSize":10,"minExtent":59}},"xOffset":{"field":"stage","type":"nominal","scale":{"paddingInner":0,"paddingOuter":0}}},
    "layer":[
     {"mark":"bar","encoding":{"y":{"field":"mean","type":"quantitative","title":"Relative expression","scale":{"domain":[0,20],"nice":false},"axis":{"labelFontSize":9,"titleFontSize":9.5,"values":[0,2.5,5,7.5,10,12.5,15,17.5,20],"labelExpr":"datum.value % 5 ? '' : format(datum.value, '.1f')","tickSize":{"condition":{"test":"datum.value % 5","value":2},"value":4}}},"color":{"field":"stage","type":"nominal","title":null,"scale":{"domain":["18d","25d","32d"],"range":["#FF6565","#E6A829","#5B6CFF"]}}}},
     {"mark":{"type":"rule","color":"black","strokeWidth":1.2},"encoding":{"y":{"field":"lo","type":"quantitative","title":"Relative expression"},"y2":{"field":"hi"}}},
     {"mark":{"type":"tick","color":"black","size":4.5,"thickness":1.2},"encoding":{"y":{"field":"lo","type":"quantitative","title":"Relative expression"}}},
     {"mark":{"type":"tick","color":"black","size":4.5,"thickness":1.2},"encoding":{"y":{"field":"hi","type":"quantitative","title":"Relative expression"}}},
     {"mark":{"type":"text","baseline":"alphabetic","dy":-3},"encoding":{"y":{"field":"hi","type":"quantitative","title":"Relative expression"},"text":{"field":"sig"}}}
    ]},
   {"width":105,"height":207,"title":"SibHLH22",
    "data":{"values":[{"tissue":"Fruit","stage":"18d","mean":3.08,"lo":2.14,"hi":4.0,"sig":"a"},{"tissue":"Fruit","stage":"25d","mean":1.47,"lo":1.22,"hi":1.73,"sig":"b"},{"tissue":"Fruit","stage":"32d","mean":0.99,"lo":0.8,"hi":1.19,"sig":"b"},{"tissue":"Glume","stage":"18d","mean":11.25,"lo":8.43,"hi":14.1,"sig":"a"},{"tissue":"Glume","stage":"25d","mean":8.04,"lo":5.48,"hi":10.6,"sig":"a"},{"tissue":"Glume","stage":"32d","mean":1.28,"lo":0.85,"hi":1.7,"sig":"b"}]},
    "encoding":{"x":{"field":"tissue","type":"nominal","title":null,"scale":{"paddingInner":0.19,"paddingOuter":0.08},"axis":{"labelAngle":0,"labelFontSize":10,"minExtent":59}},"xOffset":{"field":"stage","type":"nominal","scale":{"paddingInner":0,"paddingOuter":0}}},
    "layer":[
     {"mark":"bar","encoding":{"y":{"field":"mean","type":"quantitative","title":"Relative expression","scale":{"domain":[0,20],"nice":false},"axis":{"labelFontSize":9,"titleFontSize":9.5,"values":[0,2.5,5,7.5,10,12.5,15,17.5,20],"labelExpr":"datum.value % 5 ? '' : format(datum.value, '.1f')","tickSize":{"condition":{"test":"datum.value % 5","value":2},"value":4}}},"color":{"field":"stage","type":"nominal","title":null,"scale":{"domain":["18d","25d","32d"],"range":["#FF6565","#E6A829","#5B6CFF"]}}}},
     {"mark":{"type":"rule","color":"black","strokeWidth":1.2},"encoding":{"y":{"field":"lo","type":"quantitative","title":"Relative expression"},"y2":{"field":"hi"}}},
     {"mark":{"type":"tick","color":"black","size":4.5,"thickness":1.2},"encoding":{"y":{"field":"lo","type":"quantitative","title":"Relative expression"}}},
     {"mark":{"type":"tick","color":"black","size":4.5,"thickness":1.2},"encoding":{"y":{"field":"hi","type":"quantitative","title":"Relative expression"}}},
     {"mark":{"type":"text","baseline":"alphabetic","dy":-3},"encoding":{"y":{"field":"hi","type":"quantitative","title":"Relative expression"},"text":{"field":"sig"}}}
    ]},
   {"width":105,"height":207,"title":"SibHLH25",
    "data":{"values":[{"tissue":"Fruit","stage":"18d","mean":1.02,"lo":0.81,"hi":1.23,"sig":"b"},{"tissue":"Fruit","stage":"25d","mean":1.06,"lo":0.9,"hi":1.21,"sig":"b"},{"tissue":"Fruit","stage":"32d","mean":6.06,"lo":4.81,"hi":7.31,"sig":"a"},{"tissue":"Glume","stage":"18d","mean":4.17,"lo":3.56,"hi":4.79,"sig":"a"},{"tissue":"Glume","stage":"25d","mean":1.58,"lo":0.86,"hi":2.29,"sig":"b"},{"tissue":"Glume","stage":"32d","mean":0.62,"lo":0.54,"hi":0.69,"sig":"b"}]},
    "encoding":{"x":{"field":"tissue","type":"nominal","title":null,"scale":{"paddingInner":0.19,"paddingOuter":0.08},"axis":{"labelAngle":0,"labelFontSize":10,"minExtent":59}},"xOffset":{"field":"stage","type":"nominal","scale":{"paddingInner":0,"paddingOuter":0}}},
    "layer":[
     {"mark":"bar","encoding":{"y":{"field":"mean","type":"quantitative","title":"Relative expression","scale":{"domain":[0,12],"nice":false},"axis":{"labelFontSize":9,"titleFontSize":9.5,"values":[0,1,2,3,4,5,6,7,8,9,10,11,12],"labelExpr":"datum.value % 2 ? '' : format(datum.value, '.1f')","tickSize":{"condition":{"test":"datum.value % 2","value":2},"value":4}}},"color":{"field":"stage","type":"nominal","title":null,"scale":{"domain":["18d","25d","32d"],"range":["#FF6565","#E6A829","#5B6CFF"]}}}},
     {"mark":{"type":"rule","color":"black","strokeWidth":1.2},"encoding":{"y":{"field":"lo","type":"quantitative","title":"Relative expression"},"y2":{"field":"hi"}}},
     {"mark":{"type":"tick","color":"black","size":4.5,"thickness":1.2},"encoding":{"y":{"field":"lo","type":"quantitative","title":"Relative expression"}}},
     {"mark":{"type":"tick","color":"black","size":4.5,"thickness":1.2},"encoding":{"y":{"field":"hi","type":"quantitative","title":"Relative expression"}}},
     {"mark":{"type":"text","baseline":"alphabetic","dy":-3},"encoding":{"y":{"field":"hi","type":"quantitative","title":"Relative expression"},"text":{"field":"sig"}}}
    ]},
   {"width":105,"height":207,"title":"SibHLH29",
    "data":{"values":[{"tissue":"Fruit","stage":"18d","mean":3.1,"lo":2.4,"hi":3.81,"sig":"a"},{"tissue":"Fruit","stage":"25d","mean":1.27,"lo":1.03,"hi":1.5,"sig":"b"},{"tissue":"Fruit","stage":"32d","mean":1.05,"lo":0.72,"hi":1.37,"sig":"b"},{"tissue":"Glume","stage":"18d","mean":0.73,"lo":0.61,"hi":0.86,"sig":"b"},{"tissue":"Glume","stage":"25d","mean":2.95,"lo":2.18,"hi":3.72,"sig":"a"},{"tissue":"Glume","stage":"32d","mean":1.56,"lo":1.42,"hi":1.69,"sig":"b"}]},
    "encoding":{"x":{"field":"tissue","type":"nominal","title":null,"scale":{"paddingInner":0.19,"paddingOuter":0.08},"axis":{"labelAngle":0,"labelFontSize":10,"minExtent":59}},"xOffset":{"field":"stage","type":"nominal","scale":{"paddingInner":0,"paddingOuter":0}}},
    "layer":[
     {"mark":"bar","encoding":{"y":{"field":"mean","type":"quantitative","title":"Relative expression","scale":{"domain":[0,8],"nice":false},"axis":{"labelFontSize":9,"titleFontSize":9.5,"values":[0,1,2,3,4,5,6,7,8],"labelExpr":"datum.value % 2 ? '' : format(datum.value, '.1f')","tickSize":{"condition":{"test":"datum.value % 2","value":2},"value":4}}},"color":{"field":"stage","type":"nominal","title":null,"scale":{"domain":["18d","25d","32d"],"range":["#FF6565","#E6A829","#5B6CFF"]}}}},
     {"mark":{"type":"rule","color":"black","strokeWidth":1.2},"encoding":{"y":{"field":"lo","type":"quantitative","title":"Relative expression"},"y2":{"field":"hi"}}},
     {"mark":{"type":"tick","color":"black","size":4.5,"thickness":1.2},"encoding":{"y":{"field":"lo","type":"quantitative","title":"Relative expression"}}},
     {"mark":{"type":"tick","color":"black","size":4.5,"thickness":1.2},"encoding":{"y":{"field":"hi","type":"quantitative","title":"Relative expression"}}},
     {"mark":{"type":"text","baseline":"alphabetic","dy":-3},"encoding":{"y":{"field":"hi","type":"quantitative","title":"Relative expression"},"text":{"field":"sig"}}}
    ]}
  ]},
   {"width":105,"height":207,"title":"SibHLH30",
    "data":{"values":[{"tissue":"Fruit","stage":"18d","mean":4.45,"lo":4.18,"hi":4.73,"sig":"a"},{"tissue":"Fruit","stage":"25d","mean":2.11,"lo":1.4,"hi":2.81,"sig":"b"},{"tissue":"Fruit","stage":"32d","mean":1.01,"lo":0.84,"hi":1.17,"sig":"b"},{"tissue":"Glume","stage":"18d","mean":1.67,"lo":0.81,"hi":2.52,"sig":"c"},{"tissue":"Glume","stage":"25d","mean":7.3,"lo":6.82,"hi":7.78,"sig":"a"},{"tissue":"Glume","stage":"32d","mean":4.69,"lo":3.95,"hi":5.42,"sig":"b"}]},
    "encoding":{"x":{"field":"tissue","type":"nominal","title":null,"scale":{"paddingInner":0.19,"paddingOuter":0.08},"axis":{"labelAngle":0,"labelFontSize":10,"minExtent":59}},"xOffset":{"field":"stage","type":"nominal","scale":{"paddingInner":0,"paddingOuter":0}}},
    "layer":[
     {"mark":"bar","encoding":{"y":{"field":"mean","type":"quantitative","title":"Relative expression","scale":{"domain":[0,10],"nice":false},"axis":{"labelFontSize":9,"titleFontSize":9.5,"values":[0,1,2,3,4,5,6,7,8,9,10],"labelExpr":"datum.value % 2 ? '' : format(datum.value, '.1f')","tickSize":{"condition":{"test":"datum.value % 2","value":2},"value":4}}},"color":{"field":"stage","type":"nominal","title":null,"scale":{"domain":["18d","25d","32d"],"range":["#FF6565","#E6A829","#5B6CFF"]}}}},
     {"mark":{"type":"rule","color":"black","strokeWidth":1.2},"encoding":{"y":{"field":"lo","type":"quantitative","title":"Relative expression"},"y2":{"field":"hi"}}},
     {"mark":{"type":"tick","color":"black","size":4.5,"thickness":1.2},"encoding":{"y":{"field":"lo","type":"quantitative","title":"Relative expression"}}},
     {"mark":{"type":"tick","color":"black","size":4.5,"thickness":1.2},"encoding":{"y":{"field":"hi","type":"quantitative","title":"Relative expression"}}},
     {"mark":{"type":"text","baseline":"alphabetic","dy":-3},"encoding":{"y":{"field":"hi","type":"quantitative","title":"Relative expression"},"text":{"field":"sig"}}}
    ]}
 ]},
 {"spacing":50,"resolve":{"legend":{"color":"independent"}},"hconcat":[
  {"spacing":41,"resolve":{"legend":{"color":"independent"}},"hconcat":[
   {"width":105,"height":207,"title":"SibHLH32",
    "data":{"values":[{"tissue":"Fruit","stage":"18d","mean":9.95,"lo":7.98,"hi":11.97,"sig":"a"},{"tissue":"Fruit","stage":"25d","mean":0.96,"lo":0.77,"hi":1.15,"sig":"b"},{"tissue":"Fruit","stage":"32d","mean":11.92,"lo":9.71,"hi":14.04,"sig":"a"},{"tissue":"Glume","stage":"18d","mean":19.42,"lo":12.74,"hi":26.06,"sig":"a"},{"tissue":"Glume","stage":"25d","mean":15.48,"lo":11.8,"hi":19.13,"sig":"ab"},{"tissue":"Glume","stage":"32d","mean":6.83,"lo":6.06,"hi":7.6,"sig":"b"}]},
    "encoding":{"x":{"field":"tissue","type":"nominal","title":null,"scale":{"paddingInner":0.19,"paddingOuter":0.08},"axis":{"labelAngle":0,"labelFontSize":10}},"xOffset":{"field":"stage","type":"nominal","scale":{"paddingInner":0,"paddingOuter":0}}},
    "layer":[
     {"mark":"bar","encoding":{"y":{"field":"mean","type":"quantitative","title":"Relative expression","scale":{"domain":[0,30],"nice":false},"axis":{"labelFontSize":9,"titleFontSize":9.5,"values":[0,2.5,5,7.5,10,12.5,15,17.5,20,22.5,25,27.5,30],"labelExpr":"datum.value % 5 ? '' : format(datum.value, '.1f')","tickSize":{"condition":{"test":"datum.value % 5","value":2},"value":4}}},"color":{"field":"stage","type":"nominal","title":null,"scale":{"domain":["18d","25d","32d"],"range":["#FF6565","#E6A829","#5B6CFF"]}}}},
     {"mark":{"type":"rule","color":"black","strokeWidth":1.2},"encoding":{"y":{"field":"lo","type":"quantitative","title":"Relative expression"},"y2":{"field":"hi"}}},
     {"mark":{"type":"tick","color":"black","size":4.5,"thickness":1.2},"encoding":{"y":{"field":"lo","type":"quantitative","title":"Relative expression"}}},
     {"mark":{"type":"tick","color":"black","size":4.5,"thickness":1.2},"encoding":{"y":{"field":"hi","type":"quantitative","title":"Relative expression"}}},
     {"mark":{"type":"text","baseline":"alphabetic","dy":-3},"encoding":{"y":{"field":"hi","type":"quantitative","title":"Relative expression"},"text":{"field":"sig"}}}
    ]},
   {"width":105,"height":207,"title":"SibHLH36",
    "data":{"values":[{"tissue":"Fruit","stage":"18d","mean":4.17,"lo":2.82,"hi":5.51,"sig":"b"},{"tissue":"Fruit","stage":"25d","mean":26.35,"lo":24.23,"hi":28.4,"sig":"a"},{"tissue":"Fruit","stage":"32d","mean":1.03,"lo":0.64,"hi":1.41,"sig":"b"},{"tissue":"Glume","stage":"18d","mean":21.47,"lo":18.0,"hi":24.8,"sig":"a"},{"tissue":"Glume","stage":"25d","mean":5.0,"lo":3.97,"hi":5.9,"sig":"b"},{"tissue":"Glume","stage":"32d","mean":0.58,"lo":0.3,"hi":0.83,"sig":"b"}]},
    "encoding":{"x":{"field":"tissue","type":"nominal","title":null,"scale":{"paddingInner":0.19,"paddingOuter":0.08},"axis":{"labelAngle":0,"labelFontSize":10}},"xOffset":{"field":"stage","type":"nominal","scale":{"paddingInner":0,"paddingOuter":0}}},
    "layer":[
     {"mark":"bar","encoding":{"y":{"field":"mean","type":"quantitative","title":"Relative expression","scale":{"domain":[0,40],"nice":false},"axis":{"labelFontSize":9,"titleFontSize":9.5,"values":[0,5,10,15,20,25,30,35,40],"labelExpr":"datum.value % 10 ? '' : format(datum.value, '.1f')","tickSize":{"condition":{"test":"datum.value % 10","value":2},"value":4}}},"color":{"field":"stage","type":"nominal","title":null,"scale":{"domain":["18d","25d","32d"],"range":["#FF6565","#E6A829","#5B6CFF"]}}}},
     {"mark":{"type":"rule","color":"black","strokeWidth":1.2},"encoding":{"y":{"field":"lo","type":"quantitative","title":"Relative expression"},"y2":{"field":"hi"}}},
     {"mark":{"type":"tick","color":"black","size":4.5,"thickness":1.2},"encoding":{"y":{"field":"lo","type":"quantitative","title":"Relative expression"}}},
     {"mark":{"type":"tick","color":"black","size":4.5,"thickness":1.2},"encoding":{"y":{"field":"hi","type":"quantitative","title":"Relative expression"}}},
     {"mark":{"type":"text","baseline":"alphabetic","dy":-3},"encoding":{"y":{"field":"hi","type":"quantitative","title":"Relative expression"},"text":{"field":"sig"}}}
    ]},
   {"width":105,"height":207,"title":"SibHLH46",
    "data":{"values":[{"tissue":"Fruit","stage":"18d","mean":0.99,"lo":0.9,"hi":1.06,"sig":"b"},{"tissue":"Fruit","stage":"25d","mean":1.4,"lo":1.13,"hi":1.67,"sig":"b"},{"tissue":"Fruit","stage":"32d","mean":3.15,"lo":2.69,"hi":3.62,"sig":"a"},{"tissue":"Glume","stage":"18d","mean":2.46,"lo":1.37,"hi":3.54,"sig":"ab"},{"tissue":"Glume","stage":"25d","mean":3.27,"lo":2.56,"hi":3.95,"sig":"a"},{"tissue":"Glume","stage":"32d","mean":0.87,"lo":0.82,"hi":0.91,"sig":"b"}]},
    "encoding":{"x":{"field":"tissue","type":"nominal","title":null,"scale":{"paddingInner":0.19,"paddingOuter":0.08},"axis":{"labelAngle":0,"labelFontSize":10}},"xOffset":{"field":"stage","type":"nominal","scale":{"paddingInner":0,"paddingOuter":0}}},
    "layer":[
     {"mark":"bar","encoding":{"y":{"field":"mean","type":"quantitative","title":"Relative expression","scale":{"domain":[0,8],"nice":false},"axis":{"labelFontSize":9,"titleFontSize":9.5,"values":[0,1,2,3,4,5,6,7,8],"labelExpr":"datum.value % 2 ? '' : format(datum.value, '.1f')","tickSize":{"condition":{"test":"datum.value % 2","value":2},"value":4}}},"color":{"field":"stage","type":"nominal","title":null,"scale":{"domain":["18d","25d","32d"],"range":["#FF6565","#E6A829","#5B6CFF"]}}}},
     {"mark":{"type":"rule","color":"black","strokeWidth":1.2},"encoding":{"y":{"field":"lo","type":"quantitative","title":"Relative expression"},"y2":{"field":"hi"}}},
     {"mark":{"type":"tick","color":"black","size":4.5,"thickness":1.2},"encoding":{"y":{"field":"lo","type":"quantitative","title":"Relative expression"}}},
     {"mark":{"type":"tick","color":"black","size":4.5,"thickness":1.2},"encoding":{"y":{"field":"hi","type":"quantitative","title":"Relative expression"}}},
     {"mark":{"type":"text","baseline":"alphabetic","dy":-3},"encoding":{"y":{"field":"hi","type":"quantitative","title":"Relative expression"},"text":{"field":"sig"}}}
    ]},
   {"width":105,"height":207,"title":"SibHLH47",
    "data":{"values":[{"tissue":"Fruit","stage":"18d","mean":4.19,"lo":3.44,"hi":4.93,"sig":"a"},{"tissue":"Fruit","stage":"25d","mean":1.21,"lo":0.9,"hi":1.52,"sig":"b"},{"tissue":"Fruit","stage":"32d","mean":1.16,"lo":0.62,"hi":1.69,"sig":"b"},{"tissue":"Glume","stage":"18d","mean":2.23,"lo":1.85,"hi":2.64,"sig":"b"},{"tissue":"Glume","stage":"25d","mean":10.22,"lo":9.17,"hi":11.27,"sig":"a"},{"tissue":"Glume","stage":"32d","mean":2.39,"lo":1.84,"hi":2.93,"sig":"b"}]},
    "encoding":{"x":{"field":"tissue","type":"nominal","title":null,"scale":{"paddingInner":0.19,"paddingOuter":0.08},"axis":{"labelAngle":0,"labelFontSize":10}},"xOffset":{"field":"stage","type":"nominal","scale":{"paddingInner":0,"paddingOuter":0}}},
    "layer":[
     {"mark":"bar","encoding":{"y":{"field":"mean","type":"quantitative","title":"Relative expression","scale":{"domain":[0,16],"nice":false},"axis":{"labelFontSize":9,"titleFontSize":9.5,"values":[0,2,4,6,8,10,12,14,16],"labelExpr":"datum.value % 4 ? '' : format(datum.value, '.1f')","tickSize":{"condition":{"test":"datum.value % 4","value":2},"value":4}}},"color":{"field":"stage","type":"nominal","title":null,"scale":{"domain":["18d","25d","32d"],"range":["#FF6565","#E6A829","#5B6CFF"]}}}},
     {"mark":{"type":"rule","color":"black","strokeWidth":1.2},"encoding":{"y":{"field":"lo","type":"quantitative","title":"Relative expression"},"y2":{"field":"hi"}}},
     {"mark":{"type":"tick","color":"black","size":4.5,"thickness":1.2},"encoding":{"y":{"field":"lo","type":"quantitative","title":"Relative expression"}}},
     {"mark":{"type":"tick","color":"black","size":4.5,"thickness":1.2},"encoding":{"y":{"field":"hi","type":"quantitative","title":"Relative expression"}}},
     {"mark":{"type":"text","baseline":"alphabetic","dy":-3},"encoding":{"y":{"field":"hi","type":"quantitative","title":"Relative expression"},"text":{"field":"sig"}}}
    ]}
  ]},
   {"width":105,"height":207,"title":"SibHLH176",
    "data":{"values":[{"tissue":"Fruit","stage":"18d","mean":29.92,"lo":27.4,"hi":32.3,"sig":"a"},{"tissue":"Fruit","stage":"25d","mean":9.28,"lo":7.1,"hi":11.5,"sig":"b"},{"tissue":"Fruit","stage":"32d","mean":0.96,"lo":0.8,"hi":1.1,"sig":"c"},{"tissue":"Glume","stage":"18d","mean":25.1,"lo":24.2,"hi":26.0,"sig":"a"},{"tissue":"Glume","stage":"25d","mean":28.3,"lo":22.5,"hi":34.1,"sig":"a"},{"tissue":"Glume","stage":"32d","mean":2.16,"lo":1.5,"hi":2.8,"sig":"b"}]},
    "encoding":{"x":{"field":"tissue","type":"nominal","title":null,"scale":{"paddingInner":0.19,"paddingOuter":0.08},"axis":{"labelAngle":0,"labelFontSize":10}},"xOffset":{"field":"stage","type":"nominal","scale":{"paddingInner":0,"paddingOuter":0}}},
    "layer":[
     {"mark":"bar","encoding":{"y":{"field":"mean","type":"quantitative","title":"Relative expression","scale":{"domain":[0,50],"nice":false},"axis":{"labelFontSize":9,"titleFontSize":9.5,"values":[0,5,10,15,20,25,30,35,40,45,50],"labelExpr":"datum.value % 10 ? '' : format(datum.value, '.1f')","tickSize":{"condition":{"test":"datum.value % 10","value":2},"value":4}}},"color":{"field":"stage","type":"nominal","title":null,"scale":{"domain":["18d","25d","32d"],"range":["#FF6565","#E6A829","#5B6CFF"]}}}},
     {"mark":{"type":"rule","color":"black","strokeWidth":1.2},"encoding":{"y":{"field":"lo","type":"quantitative","title":"Relative expression"},"y2":{"field":"hi"}}},
     {"mark":{"type":"tick","color":"black","size":4.5,"thickness":1.2},"encoding":{"y":{"field":"lo","type":"quantitative","title":"Relative expression"}}},
     {"mark":{"type":"tick","color":"black","size":4.5,"thickness":1.2},"encoding":{"y":{"field":"hi","type":"quantitative","title":"Relative expression"}}},
     {"mark":{"type":"text","baseline":"alphabetic","dy":-3},"encoding":{"y":{"field":"hi","type":"quantitative","title":"Relative expression"},"text":{"field":"sig"}}}
    ]}
 ]}
 ]}
],
"spacing":139,
"resolve":{"scale":{"color":"independent"},"legend":{"color":"independent"}}
}
